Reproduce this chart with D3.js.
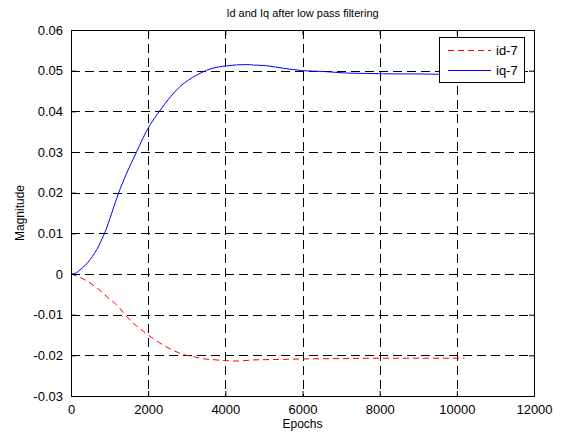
<!DOCTYPE html>
<html><head><meta charset="utf-8">
<script src="https://cdn.jsdelivr.net/npm/d3@7"></script>
<style>
body{margin:0;background:#fff;}
text{font-family:"Liberation Sans",Arial,sans-serif;fill:#000;}
</style></head>
<body><svg id="c" width="561" height="432"></svg>
<script>
const title = "Id and Iq after low pass filtering";
const xLabel = "Epochs";
const yLabel = "Magnitude";
const xTicks = [0,2000,4000,6000,8000,10000,12000];
const yTicks = [-0.03,-0.02,-0.01,0,0.01,0.02,0.03,0.04,0.05,0.06];
const iqEpochs = [0,120,233,363,492,622,708,812,925,1011,1114,1226,1444,1703,1961,2351,2825,3258,3603,4036,4554,4725,5072,5503,6005,6540,7188,7800,8400,9000,9600,10200];
const iqValues = [0,0.0002,0.0010,0.0021,0.0035,0.0053,0.0067,0.0088,0.0113,0.0137,0.0166,0.0197,0.0248,0.0301,0.0352,0.0408,0.0461,0.0489,0.0504,0.0512,0.0515,0.0514,0.0512,0.0506,0.0500,0.0498,0.0494,0.0493,0.0492,0.0492,0.0491,0.0491];
const idEpochs = [0,276,708,967,1226,1400,1616,1875,2134,2411,2653,2912,3215,3474,3733,3992,4251,4813,5500,6000,7000,8000,9000,10000,10200];
const idValues = [0,-0.001,-0.0037,-0.0059,-0.0080,-0.0100,-0.0121,-0.0141,-0.0159,-0.0176,-0.0188,-0.0198,-0.0204,-0.0209,-0.0211,-0.0213,-0.0214,-0.0211,-0.0210,-0.0209,-0.0208,-0.0207,-0.0207,-0.0207,-0.0207];
const seriesNames = ["id-7","iq-7"];

const svg = d3.select("#c");
const L=71, R=534, T=30, B=396;
const x = d3.scaleLinear().domain([0,12000]).range([L,R]);
const y = d3.scaleLinear().domain([-0.03,0.06]).range([B,T]);

// grid
const g = svg.append("g");
xTicks.slice(1,-1).forEach(t=>{
  g.append("line").attr("x1",Math.round(x(t))+0.5).attr("x2",Math.round(x(t))+0.5).attr("y1",T).attr("y2",B)
   .attr("stroke","#000").attr("stroke-dasharray","9,5");
});
yTicks.slice(1,-1).forEach(t=>{
  g.append("line").attr("y1",Math.round(y(t))+0.5).attr("y2",Math.round(y(t))+0.5).attr("x1",L).attr("x2",R)
   .attr("stroke","#000").attr("stroke-dasharray","9,5");
});

// lines
const lineGen = d3.line().x(d=>x(d[0])).y(d=>y(d[1])).curve(d3.curveMonotoneX);
svg.append("path").datum(idEpochs.map((e,i)=>[e,idValues[i]]))
  .attr("d",lineGen).attr("fill","none").attr("stroke","#ff0000").attr("stroke-width",1).attr("stroke-dasharray","6,4");
svg.append("path").datum(iqEpochs.map((e,i)=>[e,iqValues[i]]))
  .attr("d",lineGen).attr("fill","none").attr("stroke","#0000ff").attr("stroke-width",1);

// axes
const fmtY = d=> d===0 ? "0" : d3.format(".2f")(d).replace("−","-");
const ax = svg.append("g").attr("transform",`translate(0,${B})`)
  .call(d3.axisBottom(x).tickValues(xTicks).tickSize(-5).tickPadding(9).tickFormat(d3.format("d")));
const ay = svg.append("g").attr("transform",`translate(${L},0)`)
  .call(d3.axisLeft(y).tickValues(yTicks).tickSize(-5).tickPadding(8).tickFormat(fmtY));
const axT = svg.append("g").attr("transform",`translate(0,${T})`)
  .call(d3.axisTop(x).tickValues(xTicks).tickSize(-5).tickFormat(""));
const ayR = svg.append("g").attr("transform",`translate(${R},0)`)
  .call(d3.axisRight(y).tickValues(yTicks).tickSize(-5).tickFormat(""));
[ax,ay,axT,ayR].forEach(a=>{
  a.selectAll("text").style("font-size","13px").attr("font-family","Liberation Sans, Arial, sans-serif");
  a.select(".domain").attr("stroke","#000");
  a.selectAll(".tick line").attr("stroke","#000");
});

// legend
const lg = svg.append("g");
lg.append("rect").attr("x",439.5).attr("y",37.5).attr("width",85).attr("height",45).attr("fill","#fff").attr("stroke","#000");
lg.append("line").attr("x1",448).attr("x2",491).attr("y1",50.5).attr("y2",50.5).attr("stroke","#ff0000").attr("stroke-dasharray","6,4");
lg.append("line").attr("x1",448).attr("x2",491).attr("y1",70.5).attr("y2",70.5).attr("stroke","#0000ff");
lg.append("text").attr("x",496).attr("y",55).style("font-size","13px").text(seriesNames[0]);
lg.append("text").attr("x",496).attr("y",75).style("font-size","13px").text(seriesNames[1]);

// labels
svg.append("text").attr("x",(L+R)/2).attr("y",17).attr("text-anchor","middle").style("font-size","11px").text(title);
svg.append("text").attr("x",(L+R)/2).attr("y",428).attr("text-anchor","middle").style("font-size","12px").text(xLabel);
svg.append("text").attr("transform",`translate(24,${(T+B)/2}) rotate(-90)`).attr("text-anchor","middle").style("font-size","12px").text(yLabel);
</script></body></html>
